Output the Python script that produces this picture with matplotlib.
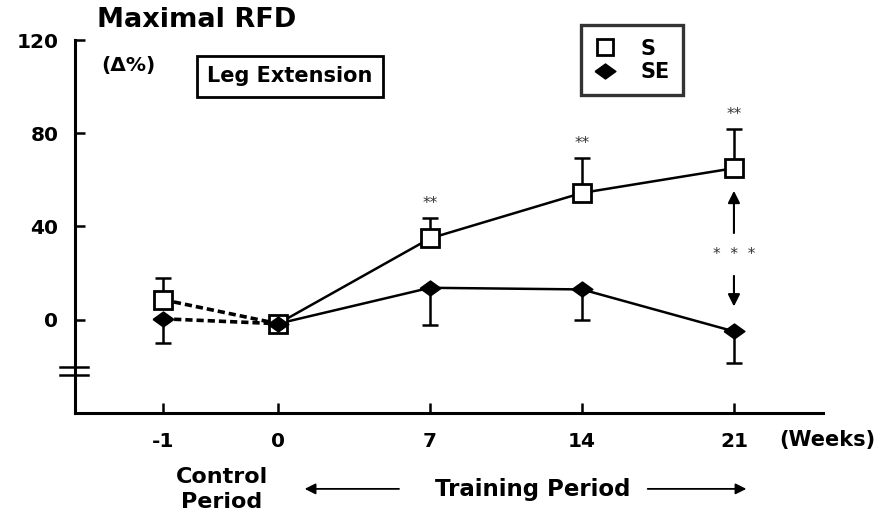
import matplotlib.pyplot as plt
from matplotlib.lines import Line2D

# weeks of measurement (control week -1, then training weeks)
weeks = ['-1', '0', '7', '14', '21']
s_mean = [8.6, -1.7, 34.9, 54.4, 65.0]
s_sd = [9.1, 0.0, 8.8, 14.8, 17.0]
se_mean = [0.4, -1.7, 13.7, 13.0, -5.0]
se_sd = [10.4, 0.0, 15.8, 13.0, 13.5]
s_stars = ['', '', '**', '**', '**']

# horizontal placement of each week on the axis (control week sits closer)
xpos = [-5.3, 0, 7, 14, 21]

plt.rcParams['font.family'] = ['DejaVu Sans']
plt.rcParams['font.weight'] = 'bold'

# a slightly flattened diamond for the SE group
diamond = [(-1, 0), (0, 0.72), (1, 0), (0, -0.72), (-1, 0)]

fig = plt.figure(figsize=(8.92, 5.13), dpi=100)
ax = fig.add_axes([0.0841, 0.195, 0.8385, 0.727])

lw = 1.8

# dotted link from control week to week 0, solid over the training period
for mean in (s_mean, se_mean):
    ax.plot(xpos[:2], mean[:2], color='black', lw=2.6, ls=(0, (2.0, 1.1)), zorder=2)
    ax.plot(xpos[1:], mean[1:], color='black', lw=lw, zorder=2)

# one-sided error bars: up for S, down for SE
ax.errorbar(xpos, s_mean, yerr=[[0] * 5, s_sd], fmt='none', ecolor='black',
            elinewidth=lw, capsize=6, capthick=lw, zorder=1)
ax.errorbar(xpos, se_mean, yerr=[se_sd, [0] * 5], fmt='none', ecolor='black',
            elinewidth=lw, capsize=6, capthick=lw, zorder=1)

ax.plot(xpos, s_mean, ls='none', marker='s', ms=12.5, mfc='white', mec='black',
        mew=2.0, zorder=3)
ax.plot(xpos, se_mean, ls='none', marker=diamond, ms=15, mfc='black', mec='black',
        zorder=4)

for x, m, sd, st in zip(xpos, s_mean, s_sd, s_stars):
    if st:
        ax.text(x, m + sd + 3, st, ha='center', va='bottom', fontsize=11,
                fontweight='normal', color='#333333')

# difference between groups at week 21
ax.annotate('', xy=(21, 56.5), xytext=(21, 36),
            arrowprops=dict(arrowstyle='-|>', color='black', lw=1.5,
                            mutation_scale=18))
ax.annotate('', xy=(21, 4.5), xytext=(21, 20),
            arrowprops=dict(arrowstyle='-|>', color='black', lw=1.5,
                            mutation_scale=18))
ax.text(21, 28, '*  *  *', ha='center', va='center', fontsize=11,
        fontweight='normal', color='#333333')

ax.set_xlim(-9.35, 25.1)
ax.set_ylim(-40, 120)
ax.set_xticks(xpos)
ax.set_xticklabels(weeks)
ax.set_yticks([0, 40, 80, 120])

for side in ('top', 'right'):
    ax.spines[side].set_visible(False)
for side in ('left', 'bottom'):
    ax.spines[side].set_linewidth(2.2)
ax.tick_params(direction='in', length=7, width=1.8, labelsize=14.5, pad=12)
ax.tick_params(axis='x', pad=14)

# axis break marks on the y axis
for yb in (-20.4, -23.5):
    ax.plot([-10.05, -8.75], [yb, yb], color='black', lw=1.8, clip_on=False)

fig.text(0.22, 0.961, 'Maximal RFD', ha='center', va='center', fontsize=19.5)
fig.text(0.1435, 0.873, '(Δ%)', ha='center', va='center', fontsize=14.5)
fig.text(0.325, 0.851, 'Leg Extension', ha='center', va='center', fontsize=15,
         bbox=dict(boxstyle='square,pad=0.5', fc='white', ec='black', lw=2))

handles = [
    Line2D([], [], ls='none', marker='s', ms=12, mfc='white', mec='black', mew=2.0),
    Line2D([], [], ls='none', marker=diamond, ms=15, mfc='black', mec='black'),
]
leg = ax.legend(handles, ['S', 'SE'], loc='upper left',
                bbox_to_anchor=(0.651, 0.951), bbox_transform=fig.transFigure,
                borderaxespad=0, frameon=True, fancybox=False, edgecolor='black',
                fontsize=15, handlelength=1.0, handletextpad=1.2, borderpad=0.65,
                labelspacing=0.15)
leg.get_frame().set_linewidth(2.4)

fig.text(0.927, 0.142, '(Weeks)', ha='center', va='center', fontsize=15)

# period labels below the axis
fig.text(0.249, 0.046, 'Control\nPeriod', ha='center', va='center', fontsize=16,
         linespacing=1.3)
fig.text(0.597, 0.046, 'Training Period', ha='center', va='center', fontsize=16.5)
ax.annotate('', xy=(1.1, 0.047), xytext=(5.7, 0.047),
            xycoords=('data', 'figure fraction'),
            textcoords=('data', 'figure fraction'),
            arrowprops=dict(arrowstyle='-|>', color='black', lw=1.3,
                            mutation_scale=16))
ax.annotate('', xy=(21.7, 0.047), xytext=(16.9, 0.047),
            xycoords=('data', 'figure fraction'),
            textcoords=('data', 'figure fraction'),
            arrowprops=dict(arrowstyle='-|>', color='black', lw=1.3,
                            mutation_scale=16))

fig.savefig('out.png', dpi=100)
